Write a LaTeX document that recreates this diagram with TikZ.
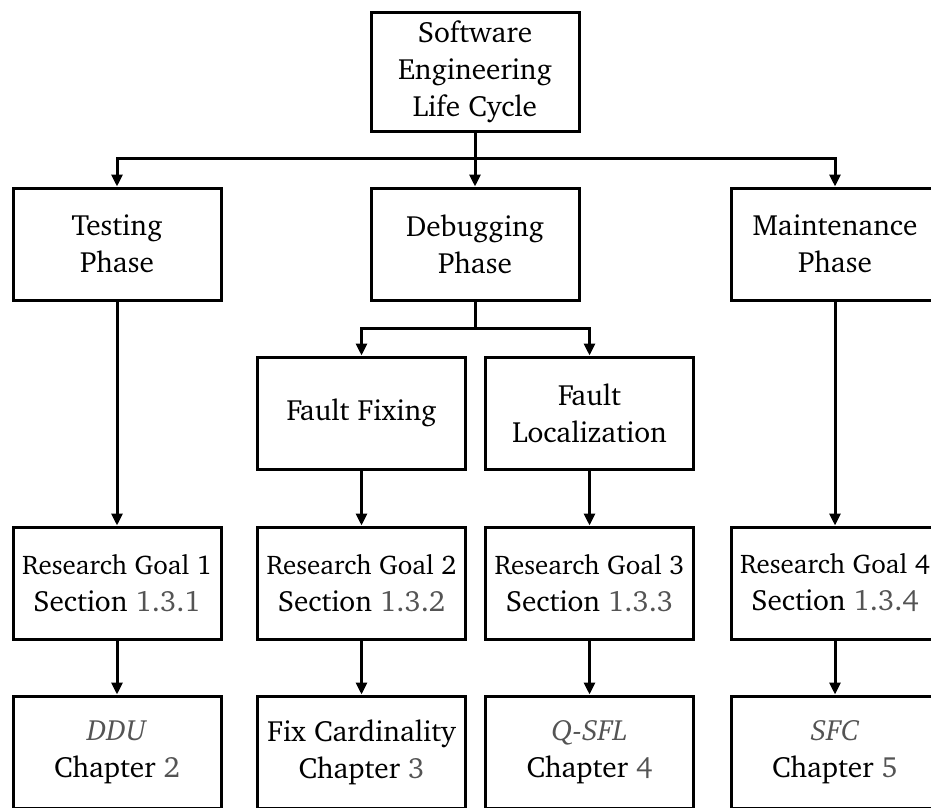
\documentclass[tikz,border=0pt]{standalone}
\usepackage[T1]{fontenc}
\renewcommand{\rmdefault}{bch}
\usetikzlibrary{arrows.meta}
\definecolor{refgray}{gray}{0.33}
\newcommand{\rf}[1]{\textcolor{refgray}{#1}}
\newcommand{\rfit}[1]{\textcolor{refgray}{\textit{#1}}}
\newcommand{\rgline}[1]{{\fontsize{27}{37}\selectfont #1}}
\tikzset{
  box/.style={draw, line width=3pt, rectangle, minimum width=208pt,
    minimum height=112pt, align=center, inner sep=4pt,
    font=\fontsize{29.3}{37}\selectfont},
  link/.style={line width=3pt},
  arr/.style={link, -{Triangle[length=12pt,width=11pt]}},
}
\begin{document}
\begin{tikzpicture}[x=1pt,y=-1pt]
\useasboundingbox (0,0) rectangle (931,807);
\clip (0,0) rectangle (931,807);

% top level
\node[box, minimum height=119pt] (slc) at (475,72) {Software\\Engineering\\Life Cycle};

% phases
\node[box] (test)  at (117,244) {Testing\\Phase};
\node[box] (debug) at (475,244) {Debugging\\Phase};
\node[box] (maint) at (835,244) {Maintenance\\Phase};

% debugging activities
\node[box] (fix) at (361.5,413) {Fault Fixing};
\node[box] (loc) at (589.5,413) {Fault\\Localization};

% research goals
\node[box] (rg1) at (117,583)   {\rgline{Research Goal 1}\\Section \rf{1.3.1}};
\node[box] (rg2) at (361.5,583) {\rgline{Research Goal 2}\\Section \rf{1.3.2}};
\node[box] (rg3) at (589.5,583) {\rgline{Research Goal 3}\\Section \rf{1.3.3}};
\node[box] (rg4) at (835,583)   {\rgline{Research Goal 4}\\Section \rf{1.3.4}};

% chapters
\node[box] (ch2) at (117,752)   {\rfit{DDU}\\Chapter \rf{2}};
\node[box] (ch3) at (361.5,752) {Fix Cardinality\\Chapter \rf{3}};
\node[box] (ch4) at (589.5,752) {\rfit{Q-SFL}\\Chapter \rf{4}};
\node[box] (ch5) at (835,752)   {\rfit{SFC}\\Chapter \rf{5}};

% branching points
\coordinate (b1) at (475,158);
\coordinate (b2) at (475,328);

\draw[link] (slc.south) -- (b1);
\draw[arr] (b1) -| (test.north);
\draw[arr] (b1) -- (debug.north);
\draw[arr] (b1) -| (maint.north);

\draw[link] (debug.south) -- (b2);
\draw[arr] (b2) -| (fix.north);
\draw[arr] (b2) -| (loc.north);

\draw[arr] (test.south) -- (rg1.north);
\draw[arr] (fix.south) -- (rg2.north);
\draw[arr] (loc.south) -- (rg3.north);
\draw[arr] (maint.south) -- (rg4.north);

\draw[arr] (rg1.south) -- (ch2.north);
\draw[arr] (rg2.south) -- (ch3.north);
\draw[arr] (rg3.south) -- (ch4.north);
\draw[arr] (rg4.south) -- (ch5.north);
\end{tikzpicture}
\end{document}
